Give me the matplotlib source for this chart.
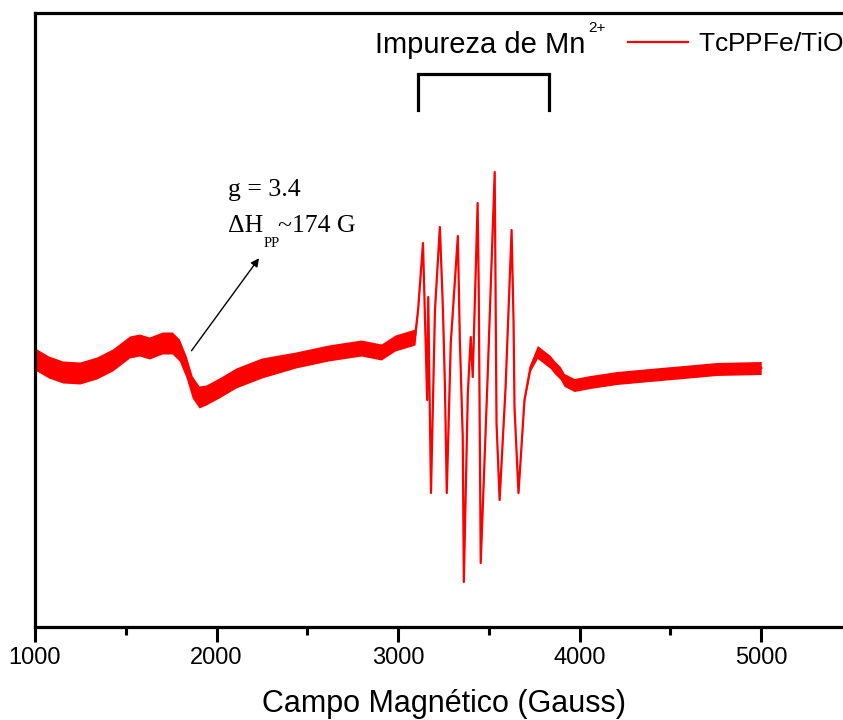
"""EPR spectrum of TcPPFe/TiO2 with the Mn2+ impurity sextet marked."""
import matplotlib
matplotlib.use("Agg")
import matplotlib.pyplot as plt
from matplotlib.ticker import MultipleLocator

plt.rcParams["font.family"] = ["Liberation Sans", "DejaVu Sans"]
plt.rcParams["mathtext.fontset"] = "custom"
plt.rcParams["mathtext.rm"] = "Liberation Sans"
plt.rcParams["mathtext.it"] = "Liberation Sans:italic"

# magnetic field (G) and first-derivative signal (a.u.)
field = [
    1000, 1075, 1153, 1247, 1340, 1427, 1521, 1575, 1630, 1701, 1756, 1795,
    1833, 1866, 1904, 1942, 2014, 2107, 2249, 2436, 2616, 2797, 2907, 2984,
    3093,
    3110, 3137, 3160, 3166, 3181, 3203, 3230, 3247, 3258, 3268, 3290, 3329,
    3340, 3356, 3362, 3384, 3400, 3411, 3438, 3444, 3455, 3493, 3532, 3542,
    3559, 3592, 3625, 3636, 3641, 3663, 3696,
    3729, 3767, 3838, 3860, 3893, 3915, 3970, 4058, 4205, 4386, 4573, 4753,
    5000,
]
signal = [
    6, -2, -7, -8, -3, 5, 18, 20, 17, 22, 22, 15,
    -2, -22, -32, -30, -23, -13, -3, 5, 12, 17, 13, 22,
    28,
    55, 122, -35, 68, -128, 55, 138, 55, -22, -128, 22, 129,
    25, -72, -217, -28, 28, -12, 162, 78, -198, -12, 193, -58,
    -135, -22, 135, 42, -42, -128, -35,
    -2, 13, 3, -2, -8, -15, -20, -17, -13, -10, -7, -4,
    -3,
]
# half-width of the noise band around the signal (a.u.)
noise = [
    11, 11, 11, 11, 11, 11, 11, 11, 11, 11, 11, 11,
    11, 11, 11, 10, 10, 10, 10, 8, 8, 8, 8, 8,
    8,
    1.5, 1.5, 1.5, 1.5, 1.5, 1.5, 1.5, 1.5, 1.5, 1.5, 1.5, 1.5,
    1.5, 1.5, 1.5, 1.5, 1.5, 1.5, 1.5, 1.5, 1.5, 1.5, 1.5, 1.5,
    1.5, 1.5, 1.5, 1.5, 1.5, 1.5, 1.5,
    4, 6.5, 6.5, 6.5, 6.5, 6.5, 6.5, 6.5, 6.5, 6.5, 6.5, 6.5,
    6.5,
]

mn_range = (3110, 3833)
sample_label = "TcPPFe/TiO$_2$"
red = "#ff0000"

fig = plt.figure(figsize=(8.43, 7.2), dpi=100)
ax = fig.add_axes([35 / 843, 93 / 720, 817 / 843, 614 / 720])

upper = [s + n for s, n in zip(signal, noise)]
lower = [s - n for s, n in zip(signal, noise)]
ax.fill_between(field, lower, upper, color=red, lw=0)
ax.plot(field, signal, color=red, lw=1.6, label=sample_label)

ax.set_xlim(1000, 5500)
ax.set_ylim(-262, 352)
ax.set_yticks([])
ax.xaxis.set_major_locator(MultipleLocator(1000))
ax.xaxis.set_minor_locator(MultipleLocator(500))
ax.tick_params(axis="x", which="major", direction="out", length=10.5,
               width=2.2, labelsize=17, pad=4)
ax.tick_params(axis="x", which="minor", direction="out", length=5.5, width=2.2)
for sp in ax.spines.values():
    sp.set_linewidth(2.3)
ax.set_xlabel("Campo Magnético (Gauss)", fontsize=22, labelpad=14)

# bracket over the Mn2+ hyperfine lines
ax.plot([mn_range[0], mn_range[0], mn_range[1], mn_range[1]],
        [255, 291, 291, 255], color="black", lw=2.3, solid_joinstyle="miter")
ax.text(2871, 312, "Impureza de Mn", fontsize=21, ha="left", va="baseline")
ax.text(4045, 333, "2+", fontsize=11, ha="left", va="baseline")

# g-value and linewidth of the broad Fe(III) signal
serif = "Liberation Serif"
ax.text(2062, 169, "g = 3.4", family=serif, fontsize=18.5, va="baseline")
ax.text(2062, 133, "ΔH", family=serif, fontsize=18.5, va="baseline")
ax.text(2260, 118, "PP", family=serif, fontsize=10.5, va="baseline")
ax.text(2336, 133, "~174 G", family=serif, fontsize=18.5, va="baseline")
ax.annotate("", xy=(2243, 109), xytext=(1853, 12),
            arrowprops=dict(arrowstyle="-|>", color="black", lw=1.0,
                            mutation_scale=12))

ax.legend(loc="center left", bbox_to_anchor=(628 / 843, 1 - 44 / 720),
          bbox_transform=fig.transFigure, frameon=False, fontsize=19,
          borderpad=0, borderaxespad=0, handlelength=2.27, handletextpad=0.38)

fig.savefig("out.png", dpi=100, facecolor="white")
